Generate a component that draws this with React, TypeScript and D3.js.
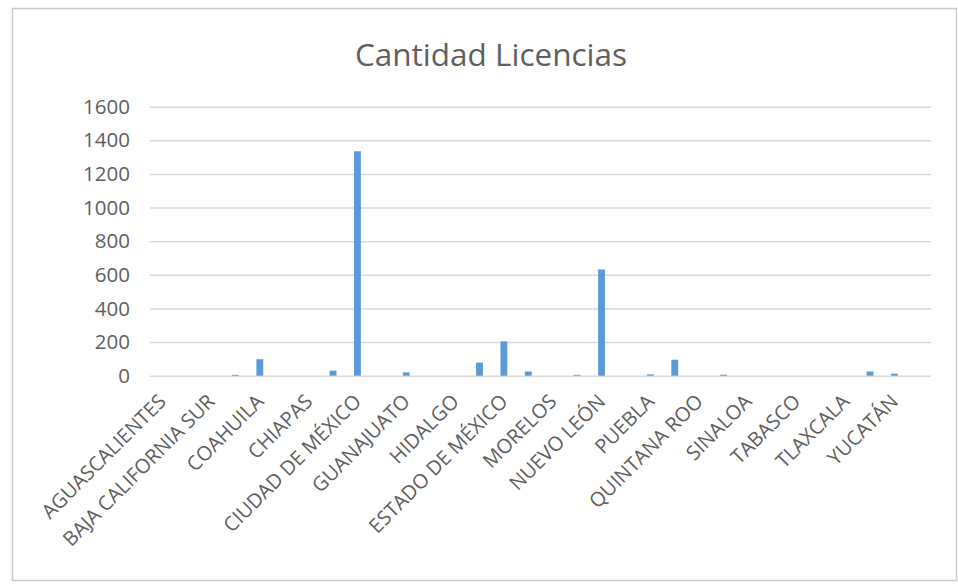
import React, { useEffect, useRef } from "react";
import * as d3 from "d3";

const states: string[] = [
  "AGUASCALIENTES",
  "BAJA CALIFORNIA",
  "BAJA CALIFORNIA SUR",
  "CAMPECHE",
  "COAHUILA",
  "COLIMA",
  "CHIAPAS",
  "CHIHUAHUA",
  "CIUDAD DE MÉXICO",
  "DURANGO",
  "GUANAJUATO",
  "GUERRERO",
  "HIDALGO",
  "JALISCO",
  "ESTADO DE MÉXICO",
  "MICHOACÁN",
  "MORELOS",
  "NAYARIT",
  "NUEVO LEÓN",
  "OAXACA",
  "PUEBLA",
  "QUERÉTARO",
  "QUINTANA ROO",
  "SAN LUIS POTOSÍ",
  "SINALOA",
  "SONORA",
  "TABASCO",
  "TAMAULIPAS",
  "TLAXCALA",
  "VERACRUZ",
  "YUCATÁN",
  "ZACATECAS",
];

const licencias: number[] = [
  0, 0, 0, 5, 98, 0, 0, 30, 1335, 0, 20, 0, 0, 78, 204, 25, 0, 5, 632, 0, 8,
  95, 0, 6, 0, 0, 0, 0, 0, 25, 12, 0,
];

const yTicks: number[] = [0, 200, 400, 600, 800, 1000, 1200, 1400, 1600];

const title = "Cantidad Licencias";

const LicenciasChart: React.FC = () => {
  const svgRef = useRef<SVGSVGElement | null>(null);

  useEffect(() => {
    const width = 958;
    const height = 584;
    const plot = { left: 150, right: 931, top: 106.7, bottom: 375.7 };
    const font = "'Open Sans', sans-serif";
    const textColor = "#606060";

    const data = states.map((s, i) => ({ state: s, value: licencias[i] }));

    const x = d3
      .scaleBand<string>()
      .domain(states)
      .range([plot.left, plot.right])
      .paddingInner(0.72)
      .paddingOuter(0.36);

    const y = d3
      .scaleLinear()
      .domain([0, 1600])
      .range([plot.bottom, plot.top]);

    const svg = d3
      .select(svgRef.current)
      .attr("width", width)
      .attr("height", height)
      .attr("viewBox", `0 0 ${width} ${height}`);

    svg.selectAll("*").remove();

    svg
      .append("rect")
      .attr("width", width)
      .attr("height", height)
      .attr("fill", "#ffffff");

    // chart frame
    svg
      .append("rect")
      .attr("x", 12.5)
      .attr("y", 8.5)
      .attr("width", 944)
      .attr("height", 572)
      .attr("fill", "#ffffff")
      .attr("stroke", "#c9c9c9")
      .attr("stroke-width", 1.5);

    svg
      .append("text")
      .attr("x", 491)
      .attr("y", 66)
      .attr("text-anchor", "middle")
      .style("font-family", font)
      .style("font-size", "31.5px")
      .attr("fill", textColor)
      .text(title);

    // y axis with gridlines
    svg
      .append("g")
      .attr("transform", `translate(${plot.left},0)`)
      .call(
        d3
          .axisLeft(y)
          .tickValues(yTicks)
          .tickSize(0)
          .tickPadding(20)
          .tickFormat(d3.format("d"))
      )
      .call((g) => g.select(".domain").remove())
      .call((g) =>
        g
          .selectAll(".tick line")
          .clone()
          .attr("x2", plot.right - plot.left)
          .attr("stroke", "#d9d9d9")
          .attr("stroke-width", 1.5)
      )
      .call((g) =>
        g
          .selectAll(".tick text")
          .attr("fill", textColor)
          .style("font-family", font)
          .style("font-size", "20.5px")
      );

    svg
      .append("g")
      .selectAll("rect")
      .data(data)
      .join("rect")
      .attr("x", (d) => x(d.state) as number)
      .attr("y", (d) => y(d.value))
      .attr("width", x.bandwidth())
      .attr("height", (d) => y(0) - y(d.value))
      .attr("fill", "#5b9bd5");

    // x axis, every other state labelled
    svg
      .append("g")
      .attr("transform", `translate(0,${plot.bottom})`)
      .call(
        d3
          .axisBottom(x)
          .tickValues(states.filter((_, i) => i % 2 === 0))
          .tickSize(0)
      )
      .call((g) => g.select(".domain").remove())
      .call((g) =>
        g
          .selectAll(".tick text")
          .attr("fill", textColor)
          .style("font-family", font)
          .style("font-size", "20px")
          .attr("text-anchor", "end")
          .attr("dy", "0.35em")
          .attr("transform", "translate(-2,20) rotate(-45)")
      );
  }, []);

  return (
    <div style={{ position: "absolute", left: 0, top: 0 }}>
      <svg ref={svgRef} style={{ display: "block" }} />
    </div>
  );
};

export default function App() {
  return <LicenciasChart />;
}
